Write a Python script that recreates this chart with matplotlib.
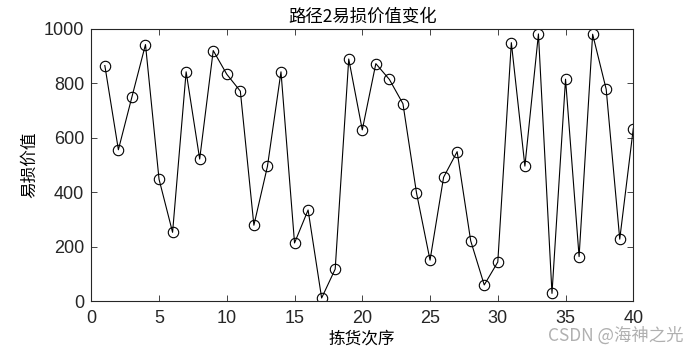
import matplotlib
matplotlib.use("Agg")
import matplotlib.pyplot as plt

order = list(range(1, 41))
values = [865, 556, 750, 942, 448, 253, 842, 522, 920, 833,
          771, 279, 495, 842, 214, 335, 12, 118, 889, 629,
          872, 814, 725, 398, 151, 455, 549, 222, 60, 144,
          949, 496, 981, 29, 815, 164, 980, 778, 228, 634]
xticks = [0, 5, 10, 15, 20, 25, 30, 35, 40]
yticks = [0, 200, 400, 600, 800, 1000]

cjk = ['Noto Sans CJK SC', 'DejaVu Sans']
plt.rcParams['font.family'] = ['Liberation Sans', 'DejaVu Sans']

fig = plt.figure(figsize=(7, 3.55), dpi=100)
ax = fig.add_axes([0.1304, 0.1513, 0.7743, 0.7677])
ax.plot(order, values, color='black', linewidth=0.8, marker='o',
        markersize=7.5, markerfacecolor='none', markeredgecolor='black',
        markeredgewidth=0.8)
ax.set_xlim(0, 40)
ax.set_ylim(0, 1000)
ax.set_xticks(xticks)
ax.set_yticks(yticks)
ax.tick_params(direction='in', top=True, right=True, labelsize=13,
               colors='#262626', length=4, width=0.6)
ax.tick_params(axis='x', pad=6)
ax.tick_params(axis='y', pad=5)
for s in ax.spines.values():
    s.set_linewidth(0.8)
    s.set_color('#262626')
ax.set_title('路径2易损价值变化', family=cjk, fontsize=12.5, pad=5)
ax.set_xlabel('拣货次序', family=cjk, fontsize=12, labelpad=3)
ax.set_ylabel('易损价值', family=cjk, fontsize=12, labelpad=4)
fig.text(0.976, 0.03, 'CSDN @海神之光', family=cjk, fontsize=12.5,
         color='#b0b0b0', ha='right', va='bottom')
fig.savefig('out.png', dpi=100)
